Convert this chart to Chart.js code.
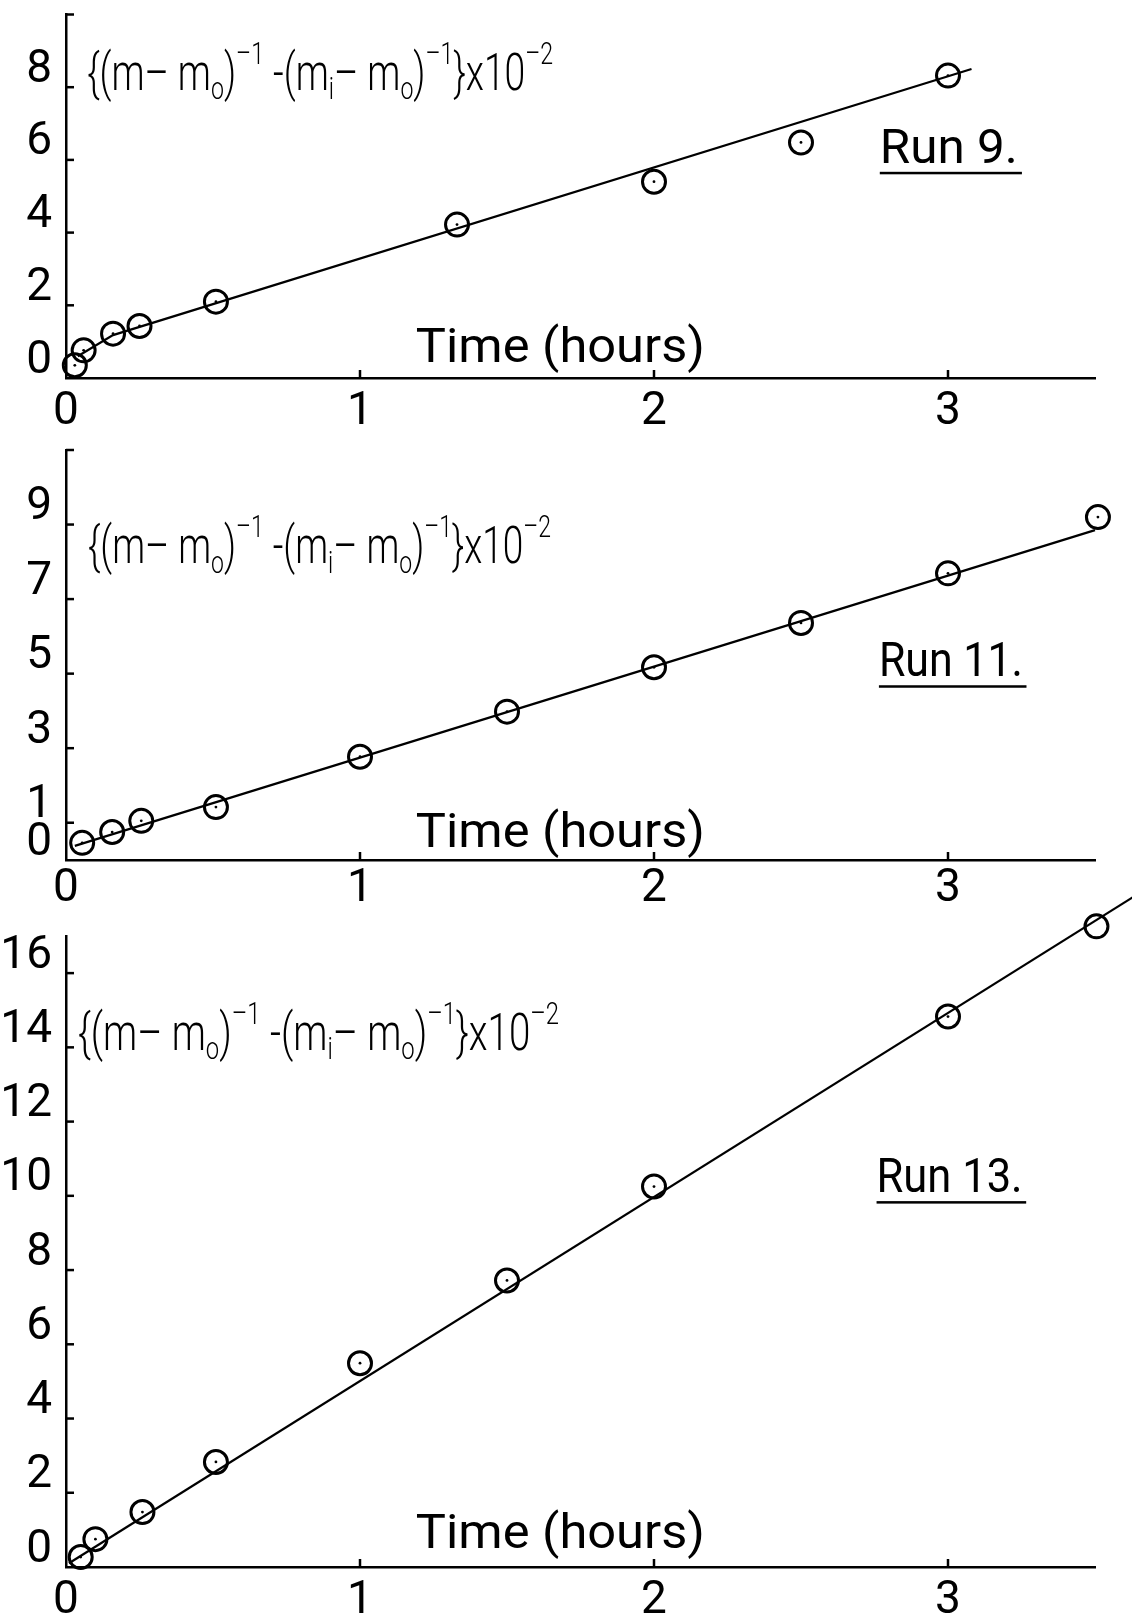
<!DOCTYPE html>
<html>
<head>
<meta charset="utf-8">
<script src="https://cdn.jsdelivr.net/npm/chart.js@4.4.0/dist/chart.umd.min.js"></script>
<style>
  html, body { margin: 0; padding: 0; background: #ffffff; }
  body { width: 1132px; height: 1619px; position: relative; overflow: hidden; }
  canvas { position: absolute; left: 0; }
</style>
</head>
<body>
<canvas id="run9"></canvas>
<canvas id="run11"></canvas>
<canvas id="run13"></canvas>
<script>
// ---------------- data ----------------
const xTickValues = [0, 1, 2, 3];

const run9Time  = [0.03, 0.06, 0.16, 0.25, 0.51, 1.33, 2.0, 2.5, 3.0];
const run9Value = [0.35, 0.76, 1.22, 1.43, 2.1, 4.22, 5.4, 6.48, 8.32];
const run9LineTime  = [0.04, 0.16, 3.08];
const run9LineValue = [0.6, 1.18, 8.5];
const run9YTicks = [0, 2, 4, 6, 8];
const run9YMax = 10;

const run11Time  = [0.055, 0.157, 0.256, 0.51, 1.0, 1.5, 2.0, 2.5, 3.0, 3.51];
const run11Value = [0.46, 0.75, 1.05, 1.42, 2.77, 3.98, 5.17, 6.36, 7.69, 9.2];
const run11LineTime  = [0.03, 3.5];
const run11LineValue = [0.38, 8.85];
const run11YTicks = [0, 1, 3, 5, 7, 9];
const run11YMax = 11;

const run13Time  = [0.05, 0.1, 0.26, 0.51, 1.0, 1.5, 2.0, 3.0, 3.505];
const run13Value = [0.27, 0.75, 1.48, 2.83, 5.49, 7.72, 10.25, 14.83, 17.26];
const run13LineTime  = [0.01, 3.64];
const run13LineValue = [0.1, 18.1];
const run13YTicks = [0, 2, 4, 6, 8, 10, 12, 14, 16];
const run13YMax = 17;

const xAxisTitle = 'Time (hours)';
const runLabels = ['Run 9.', 'Run 11.', 'Run 13.'];

// ---------------- styling / helpers ----------------
const FONT = "Roboto, 'DejaVu Sans', sans-serif";
const WEIGHT = '400';
Chart.defaults.font.family = FONT;
Chart.defaults.color = '#000';

function formulaSegments() {
  return [
    { t: '{(m\u2013 m' }, { t: 'o', mode: 'sub' }, { t: ')' }, { t: '\u2013\u0031', mode: 'sup' },
    { t: ' -(m' }, { t: 'i', mode: 'sub' }, { t: '\u2013 m' }, { t: 'o', mode: 'sub' }, { t: ')' },
    { t: '\u2013\u0031', mode: 'sup' }, { t: '}x10' }, { t: '\u2013\u0032', mode: 'sup' }
  ];
}

const inwardTicks = {
  id: 'inwardTicks',
  afterDraw(chart, args, opts) {
    const ctx = chart.ctx;
    const { left, bottom } = chart.chartArea;
    const xs = chart.scales.x, ys = chart.scales.y;
    ctx.save();
    ctx.strokeStyle = '#000';
    ctx.lineWidth = opts.width || 2.5;
    (opts.y || []).forEach(v => {
      const p = ys.getPixelForValue(v);
      ctx.beginPath(); ctx.moveTo(left, p); ctx.lineTo(left + opts.len, p); ctx.stroke();
    });
    (opts.x || []).forEach(v => {
      const p = xs.getPixelForValue(v);
      ctx.beginPath(); ctx.moveTo(p, bottom); ctx.lineTo(p, bottom - opts.len); ctx.stroke();
    });
    ctx.restore();
  }
};

const annotations = {
  id: 'annotations',
  afterDraw(chart, args, opts) {
    const ctx = chart.ctx, xs = chart.scales.x, ys = chart.scales.y;
    (opts.items || []).forEach(it => {
      const x0 = xs.getPixelForValue(it.x), y0 = ys.getPixelForValue(it.y);
      const segs = it.segments;
      const fontFor = s => `${it.weight || WEIGHT} ${s.mode ? it.size * 0.62 : it.size}px ${FONT}`;
      let total = 0;
      segs.forEach(s => { ctx.font = fontFor(s); total += ctx.measureText(s.t).width; });
      const f = it.width ? it.width / total : 1;
      ctx.save();
      ctx.translate(x0, y0);
      ctx.scale(f, 1);
      ctx.fillStyle = '#000';
      ctx.textAlign = 'left';
      ctx.textBaseline = 'alphabetic';
      let x = 0;
      segs.forEach(s => {
        ctx.font = fontFor(s);
        const dy = s.mode === 'sub' ? it.size * 0.18 : (s.mode === 'sup' ? -it.size * 0.5 : 0);
        ctx.fillText(s.t, x, dy);
        x += ctx.measureText(s.t).width;
      });
      if (it.underline) {
        ctx.fillRect(0, it.underline, x + 4, 2.5);
      }
      ctx.restore();
    });
  }
};

function pts(xs, ys) { return xs.map((x, i) => ({ x, y: ys[i] })); }

function makePanel(id, top, height, padTop, xAxisH, xPad, data, yTicks, yMax, yStubs, items) {
  const cv = document.getElementById(id);
  cv.width = 1132; cv.height = height; cv.style.top = top + 'px';
  cv.style.width = '1132px'; cv.style.height = height + 'px';
  return new Chart(cv, {
    type: 'scatter',
    data: {
      datasets: [
        { data: data.line, showLine: true, borderColor: '#000', borderWidth: 2.2, pointRadius: 0, clip: false, order: 3 },
        { data: data.points, showLine: false, pointStyle: 'circle', pointRadius: 11.5, pointBorderWidth: 3,
          pointBorderColor: '#000', pointBackgroundColor: 'rgba(0,0,0,0)', clip: false, order: 2 },
        { data: data.points, showLine: false, pointRadius: 1.4, pointBorderWidth: 0,
          pointBackgroundColor: '#000', clip: false, order: 1 }
      ]
    },
    options: {
      responsive: false, animation: false, devicePixelRatio: 1,
      layout: { padding: { left: 0, right: 37, top: padTop, bottom: 0 } },
      plugins: {
        legend: { display: false }, tooltip: { enabled: false },
        inwardTicks: { x: [1, 2, 3], y: yStubs, len: 8, width: 2.5 },
        annotations: { items }
      },
      scales: {
        x: {
          type: 'linear', min: 0, max: 3.5,
          afterBuildTicks: s => { s.ticks = xTickValues.map(v => ({ value: v })); },
          afterFit: s => { s.height = xAxisH; s.paddingLeft = 0; s.paddingRight = 0; },
          grid: { display: false },
          border: { display: true, color: '#000', width: 2.5 },
          ticks: { font: { size: 46, weight: WEIGHT }, color: '#000', padding: xPad, maxRotation: 0 }
        },
        y: {
          type: 'linear', min: 0, max: yMax,
          afterBuildTicks: s => { s.ticks = yTicks.map(v => ({ value: v })); },
          afterFit: s => { s.width = 66; s.paddingTop = 0; s.paddingBottom = 0; },
          grid: { display: false },
          border: { display: true, color: '#000', width: 2.5 },
          ticks: { font: { size: 46, weight: WEIGHT }, color: '#000', padding: 6, labelOffset: -17 }
        }
      }
    },
    plugins: [inwardTicks, annotations]
  });
}

function textItems(fx, fy, fw, tx, ty, runX, runY, runW, runLabel) {
  return [
    { x: fx, y: fy, size: 52, width: fw, weight: '300', segments: formulaSegments() },
    { x: tx, y: ty, size: 48, width: 289, segments: [{ t: xAxisTitle }] },
    { x: runX, y: runY, size: 48, width: runW, underline: 9, segments: [{ t: runLabel }] }
  ];
}

makePanel('run9', 0, 450, 9, 72, -1,
  { points: pts(run9Time, run9Value), line: pts(run9LineTime, run9LineValue) },
  run9YTicks, run9YMax, [2, 4, 6, 8, 10],
  textItems(0.072, 7.92, 466, 1.19, 0.43, 2.768, 5.92, 138, runLabels[0]));

makePanel('run11', 430, 500, 20, 70, -6,
  { points: pts(run11Time, run11Value), line: pts(run11LineTime, run11LineValue) },
  run11YTicks, run11YMax, [1, 3, 5, 7, 9, 11],
  textItems(0.075, 7.96, 463, 1.19, 0.35, 2.765, 4.93, 144, runLabels[1]));

makePanel('run13', 880, 739, 56, 52, -1,
  { points: pts(run13Time, run13Value), line: pts(run13LineTime, run13LineValue) },
  run13YTicks, run13YMax, [2, 4, 6, 8, 10, 12, 14, 16],
  textItems(0.041, 13.94, 481, 1.19, 0.51, 2.757, 10.1, 146, runLabels[2]));
</script>
</body>
</html>
